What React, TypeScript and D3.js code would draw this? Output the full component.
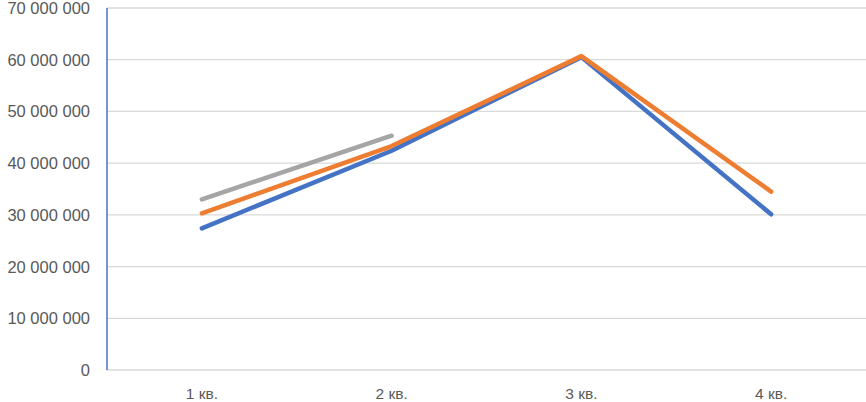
import { useEffect, useRef } from "react";
import * as d3 from "d3";

const quarters = ["1 кв.", "2 кв.", "3 кв.", "4 кв."];
const seriesBlue = [27.4e6, 42.4e6, 60.5e6, 30.1e6];
const seriesOrange = [30.3e6, 43.3e6, 60.7e6, 34.5e6];
const seriesGray = [33.0e6, 45.3e6];
const yTicks = [0, 10e6, 20e6, 30e6, 40e6, 50e6, 60e6, 70e6];

const width = 866;
const height = 402;

export default function App() {
  const svgRef = useRef<SVGSVGElement>(null);

  useEffect(() => {
    if (!svgRef.current) return;
    const svg = d3.select(svgRef.current);
    svg.selectAll("*").remove();

    const margin = { top: 8, right: 0, bottom: 32, left: 107 };
    const w = width - margin.left - margin.right;
    const h = height - margin.top - margin.bottom;

    const g = svg
      .append("g")
      .attr("transform", `translate(${margin.left},${margin.top})`);

    const x = d3.scaleBand().domain(quarters).range([0, w]);
    const y = d3.scaleLinear().domain([0, 70e6]).range([h, 0]);

    // grid
    yTicks.forEach((t) => {
      g.append("line")
        .attr("x1", 0)
        .attr("x2", w)
        .attr("y1", y(t))
        .attr("y2", y(t))
        .attr("stroke", "#d9d9d9")
        .attr("stroke-width", 1.3);
    });

    // y labels
    const fmt = (v: number) => d3.format(",")(v).replace(/,/g, " ");
    yTicks.forEach((t) => {
      g.append("text")
        .attr("x", -17)
        .attr("y", y(t))
        .attr("dy", "0.36em")
        .attr("text-anchor", "end")
        .attr("font-size", "16.5px")
        .attr("font-family", "'Liberation Sans', Arial, sans-serif")
        .attr("fill", "#595959")
        .text(fmt(t));
    });

    // x labels
    quarters.forEach((q) => {
      g.append("text")
        .attr("x", (x(q) ?? 0) + x.bandwidth() / 2)
        .attr("y", h + 29)
        .attr("text-anchor", "middle")
        .attr("font-size", "15.5px")
        .attr("font-family", "'Liberation Sans', Arial, sans-serif")
        .attr("fill", "#595959")
        .text(q);
    });

    // vertical axis line
    g.append("line")
      .attr("x1", 0)
      .attr("x2", 0)
      .attr("y1", 0)
      .attr("y2", h)
      .attr("stroke", "#4472c4")
      .attr("stroke-width", 1.5);

    const line = d3
      .line<number>()
      .x((_, i) => (x(quarters[i]) ?? 0) + x.bandwidth() / 2)
      .y((d) => y(d));

    const series: [number[], string][] = [
      [seriesGray, "#a5a5a5"],
      [seriesBlue, "#4472c4"],
      [seriesOrange, "#ed7d31"],
    ];
    series.forEach(([data, color]) => {
      g.append("path")
        .datum(data)
        .attr("fill", "none")
        .attr("stroke", color)
        .attr("stroke-width", 4.5)
        .attr("stroke-linejoin", "round")
        .attr("stroke-linecap", "round")
        .attr("d", line);
    });
  }, []);

  return (
    <svg
      ref={svgRef}
      width={width}
      height={height}
      style={{ position: "absolute", left: 0, top: 0, background: "#fff" }}
    />
  );
}
